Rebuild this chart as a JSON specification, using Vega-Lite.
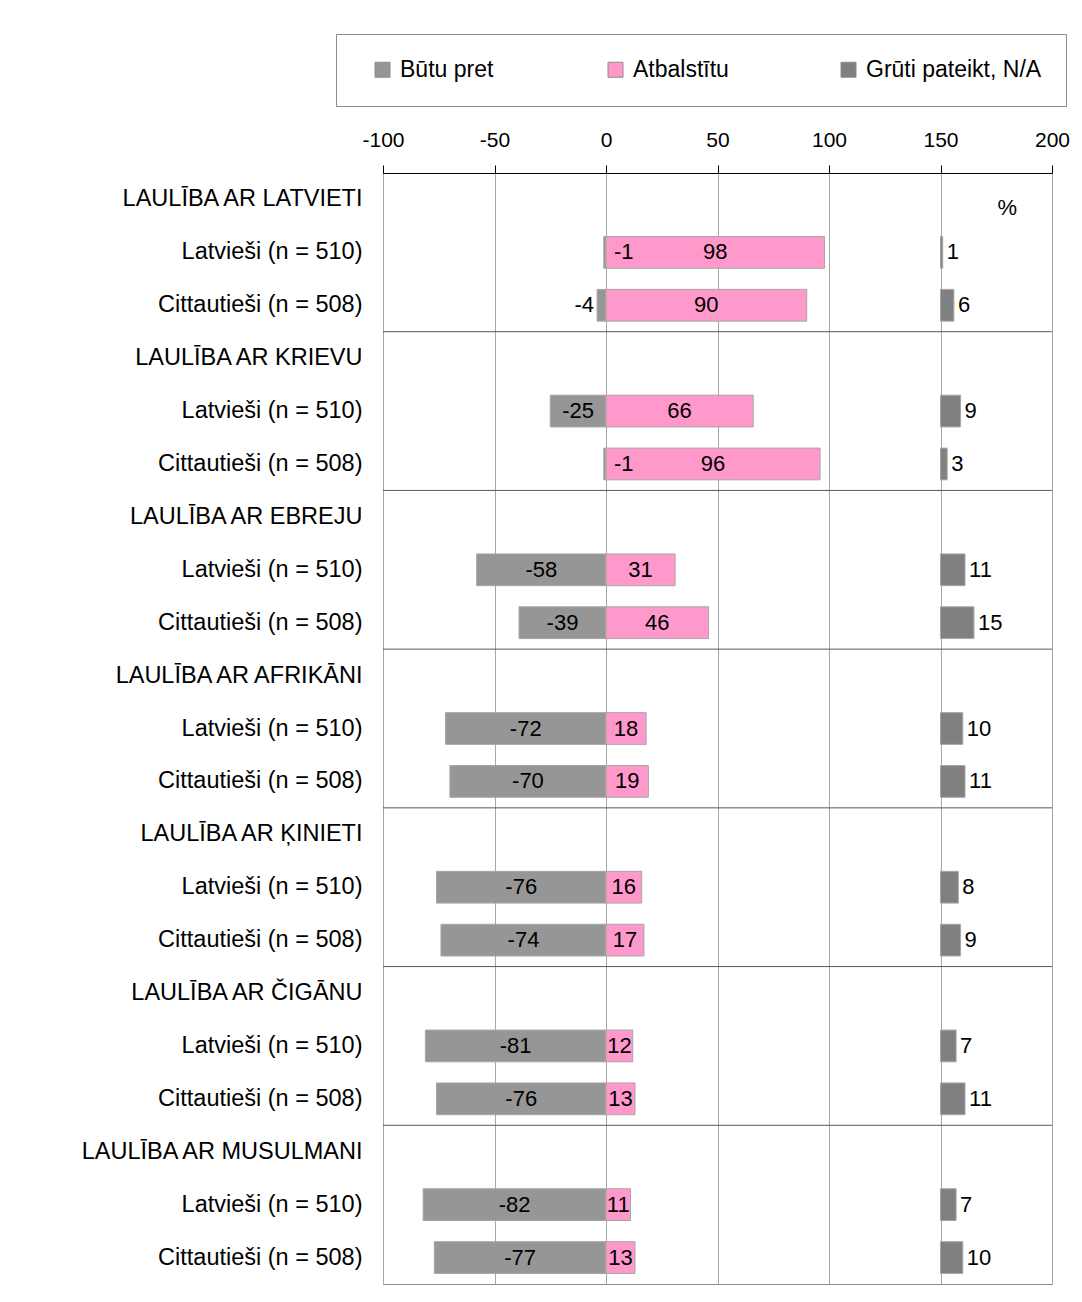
{
  "$schema": "https://vega.github.io/schema/vega-lite/v6.json",
  "autosize": {"type": "none"},
  "width": 669,
  "height": 1111,
  "padding": {"left": 383, "top": 173, "right": 30, "bottom": 18},
  "background": "white",
  "config": {
    "font": "Liberation Sans",
    "view": {"stroke": "#8c8c8c", "strokeWidth": 1}
  },
  "datasets": {
    "bars": [
      {"row": "1|Latvieši (n = 510)", "series": "Būtu pret", "value": -1},
      {"row": "1|Latvieši (n = 510)", "series": "Atbalstītu", "value": 98},
      {"row": "1|Latvieši (n = 510)", "series": "Grūti pateikt, N/A", "value": 1},
      {"row": "1|Cittautieši (n = 508)", "series": "Būtu pret", "value": -4},
      {"row": "1|Cittautieši (n = 508)", "series": "Atbalstītu", "value": 90},
      {"row": "1|Cittautieši (n = 508)", "series": "Grūti pateikt, N/A", "value": 6},
      {"row": "2|Latvieši (n = 510)", "series": "Būtu pret", "value": -25},
      {"row": "2|Latvieši (n = 510)", "series": "Atbalstītu", "value": 66},
      {"row": "2|Latvieši (n = 510)", "series": "Grūti pateikt, N/A", "value": 9},
      {"row": "2|Cittautieši (n = 508)", "series": "Būtu pret", "value": -1},
      {"row": "2|Cittautieši (n = 508)", "series": "Atbalstītu", "value": 96},
      {"row": "2|Cittautieši (n = 508)", "series": "Grūti pateikt, N/A", "value": 3},
      {"row": "3|Latvieši (n = 510)", "series": "Būtu pret", "value": -58},
      {"row": "3|Latvieši (n = 510)", "series": "Atbalstītu", "value": 31},
      {"row": "3|Latvieši (n = 510)", "series": "Grūti pateikt, N/A", "value": 11},
      {"row": "3|Cittautieši (n = 508)", "series": "Būtu pret", "value": -39},
      {"row": "3|Cittautieši (n = 508)", "series": "Atbalstītu", "value": 46},
      {"row": "3|Cittautieši (n = 508)", "series": "Grūti pateikt, N/A", "value": 15},
      {"row": "4|Latvieši (n = 510)", "series": "Būtu pret", "value": -72},
      {"row": "4|Latvieši (n = 510)", "series": "Atbalstītu", "value": 18},
      {"row": "4|Latvieši (n = 510)", "series": "Grūti pateikt, N/A", "value": 10},
      {"row": "4|Cittautieši (n = 508)", "series": "Būtu pret", "value": -70},
      {"row": "4|Cittautieši (n = 508)", "series": "Atbalstītu", "value": 19},
      {"row": "4|Cittautieši (n = 508)", "series": "Grūti pateikt, N/A", "value": 11},
      {"row": "5|Latvieši (n = 510)", "series": "Būtu pret", "value": -76},
      {"row": "5|Latvieši (n = 510)", "series": "Atbalstītu", "value": 16},
      {"row": "5|Latvieši (n = 510)", "series": "Grūti pateikt, N/A", "value": 8},
      {"row": "5|Cittautieši (n = 508)", "series": "Būtu pret", "value": -74},
      {"row": "5|Cittautieši (n = 508)", "series": "Atbalstītu", "value": 17},
      {"row": "5|Cittautieši (n = 508)", "series": "Grūti pateikt, N/A", "value": 9},
      {"row": "6|Latvieši (n = 510)", "series": "Būtu pret", "value": -81},
      {"row": "6|Latvieši (n = 510)", "series": "Atbalstītu", "value": 12},
      {"row": "6|Latvieši (n = 510)", "series": "Grūti pateikt, N/A", "value": 7},
      {"row": "6|Cittautieši (n = 508)", "series": "Būtu pret", "value": -76},
      {"row": "6|Cittautieši (n = 508)", "series": "Atbalstītu", "value": 13},
      {"row": "6|Cittautieši (n = 508)", "series": "Grūti pateikt, N/A", "value": 11},
      {"row": "7|Latvieši (n = 510)", "series": "Būtu pret", "value": -82},
      {"row": "7|Latvieši (n = 510)", "series": "Atbalstītu", "value": 11},
      {"row": "7|Latvieši (n = 510)", "series": "Grūti pateikt, N/A", "value": 7},
      {"row": "7|Cittautieši (n = 508)", "series": "Būtu pret", "value": -77},
      {"row": "7|Cittautieši (n = 508)", "series": "Atbalstītu", "value": 13},
      {"row": "7|Cittautieši (n = 508)", "series": "Grūti pateikt, N/A", "value": 10}
    ],
    "headers": [
      {"row": "2|LAULĪBA AR KRIEVU"},
      {"row": "3|LAULĪBA AR EBREJU"},
      {"row": "4|LAULĪBA AR AFRIKĀNI"},
      {"row": "5|LAULĪBA AR ĶINIETI"},
      {"row": "6|LAULĪBA AR ČIGĀNU"},
      {"row": "7|LAULĪBA AR MUSULMANI"}
    ],
    "note": [
      {"row": "1|LAULĪBA AR LATVIETI", "text": "%", "x": 180}
    ]
  },
  "encoding": {
    "y": {
      "field": "row",
      "type": "nominal",
      "sort": null,
      "scale": {
        "domain": [
          "1|LAULĪBA AR LATVIETI", "1|Latvieši (n = 510)", "1|Cittautieši (n = 508)",
          "2|LAULĪBA AR KRIEVU", "2|Latvieši (n = 510)", "2|Cittautieši (n = 508)",
          "3|LAULĪBA AR EBREJU", "3|Latvieši (n = 510)", "3|Cittautieši (n = 508)",
          "4|LAULĪBA AR AFRIKĀNI", "4|Latvieši (n = 510)", "4|Cittautieši (n = 508)",
          "5|LAULĪBA AR ĶINIETI", "5|Latvieši (n = 510)", "5|Cittautieši (n = 508)",
          "6|LAULĪBA AR ČIGĀNU", "6|Latvieši (n = 510)", "6|Cittautieši (n = 508)",
          "7|LAULĪBA AR MUSULMANI", "7|Latvieši (n = 510)", "7|Cittautieši (n = 508)"
        ],
        "paddingInner": 0,
        "paddingOuter": 0
      },
      "axis": {
        "title": null,
        "domain": false,
        "ticks": false,
        "labelExpr": "split(datum.value, '|')[1]",
        "labelFontSize": 23.5,
        "labelColor": "#000000",
        "labelPadding": 21,
        "labelLimit": 400
      }
    }
  },
  "layer": [
    {
      "data": {"name": "headers"},
      "mark": {"type": "rule", "color": "#595959", "strokeWidth": 1},
      "encoding": {
        "y": {"field": "row", "type": "nominal", "bandPosition": 0}
      }
    },
    {
      "data": {"name": "bars"},
      "transform": [
        {"calculate": "datum.series === 'Grūti pateikt, N/A' ? 150 : 0", "as": "start"},
        {"calculate": "datum.start + datum.value", "as": "end"}
      ],
      "mark": {"type": "bar", "height": {"band": 0.6}, "stroke": "#a6a6a6", "strokeWidth": 1},
      "encoding": {
        "x": {
          "field": "start",
          "type": "quantitative",
          "scale": {"domain": [-100, 200], "nice": false, "zero": false},
          "axis": {
            "orient": "top",
            "title": null,
            "values": [-100, -50, 0, 50, 100, 150, 200],
            "labelExpr": "'' + datum.value",
            "grid": true,
            "gridColor": "#a6a6a6",
            "gridWidth": 1,
            "domainColor": "#000000",
            "domainWidth": 1,
            "tickColor": "#000000",
            "tickSize": 8,
            "labelFontSize": 21,
            "labelColor": "#000000",
            "labelPadding": 15,
            "labelFlush": false
          }
        },
        "x2": {"field": "end"},
        "color": {
          "field": "series",
          "type": "nominal",
          "scale": {
            "domain": ["Būtu pret", "Atbalstītu", "Grūti pateikt, N/A"],
            "range": ["#969696", "#ff99cc", "#808080"]
          },
          "legend": {
            "title": null,
            "orient": "none",
            "legendX": -47,
            "legendY": -139,
            "direction": "horizontal",
            "gridAlign": "all",
            "columnPadding": 17,
            "padding": 24,
            "strokeColor": "#8c8c8c",
            "fillColor": "white",
            "symbolType": "square",
            "symbolSize": 225,
            "symbolStrokeColor": "#8c8c8c",
            "symbolStrokeWidth": 1,
            "symbolOffset": 11,
            "labelFontSize": 23,
            "labelColor": "#000000",
            "labelOffset": 6,
            "labelLimit": 300
          }
        }
      }
    },
    {
      "mark": {"type": "rule", "color": "#000000", "strokeWidth": 1},
      "encoding": {"x": {"datum": 0, "type": "quantitative"}}
    },
    {
      "data": {"name": "bars"},
      "transform": [
        {"filter": "datum.series !== 'Grūti pateikt, N/A' && !(datum.value <= -1 && datum.value >= -9)"},
        {"calculate": "datum.value / 2", "as": "mid"}
      ],
      "mark": {"type": "text", "fontSize": 22, "color": "#000000", "align": "center", "baseline": "middle"},
      "encoding": {
        "x": {"field": "mid", "type": "quantitative"},
        "text": {"field": "value", "type": "nominal"}
      }
    },
    {
      "data": {"name": "bars"},
      "transform": [
        {"filter": "datum.series === 'Būtu pret' && datum.value <= -2 && datum.value >= -9"}
      ],
      "mark": {"type": "text", "fontSize": 22, "color": "#000000", "align": "right", "baseline": "middle", "dx": -3},
      "encoding": {
        "x": {"field": "value", "type": "quantitative"},
        "text": {"field": "value", "type": "nominal"}
      }
    },
    {
      "data": {"name": "bars"},
      "transform": [
        {"filter": "datum.series === 'Būtu pret' && datum.value === -1"}
      ],
      "mark": {"type": "text", "fontSize": 22, "color": "#000000", "align": "left", "baseline": "middle", "dx": 8},
      "encoding": {
        "x": {"datum": 0, "type": "quantitative"},
        "text": {"field": "value", "type": "nominal"}
      }
    },
    {
      "data": {"name": "bars"},
      "transform": [
        {"filter": "datum.series === 'Grūti pateikt, N/A'"},
        {"calculate": "150 + datum.value", "as": "end"}
      ],
      "mark": {"type": "text", "fontSize": 22, "color": "#000000", "align": "left", "baseline": "middle", "dx": 4},
      "encoding": {
        "x": {"field": "end", "type": "quantitative"},
        "text": {"field": "value", "type": "nominal"}
      }
    },
    {
      "data": {"name": "note"},
      "mark": {"type": "text", "fontSize": 22, "color": "#000000", "align": "center", "baseline": "middle", "dy": 9},
      "encoding": {
        "x": {"field": "x", "type": "quantitative"},
        "text": {"field": "text"}
      }
    }
  ]
}
